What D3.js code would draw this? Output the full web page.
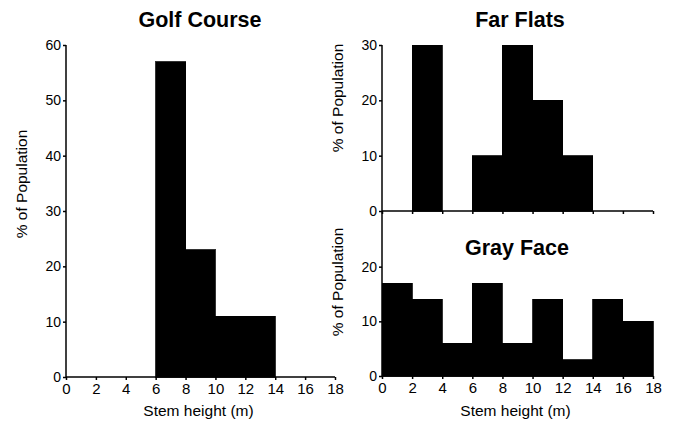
<!DOCTYPE html>
<html>
<head>
<meta charset="utf-8">
<style>
body { margin: 0; padding: 0; background: white; overflow: hidden; }
svg text { font-family: "Liberation Sans", Arial, Helvetica, sans-serif; fill: black; }
.title { font-size: 21.5px; font-weight: bold; }
.label { font-size: 15.5px; }
.axis path, .axis line { stroke: black; stroke-width: 1.5px; fill: none; }
.axis text { font-size: 14px; }
.x.axis text { font-size: 15px; }
.bar { shape-rendering: crispEdges; }
</style>
</head>
<body>
<script src="https://d3js.org/d3.v7.min.js"></script>
<script>
// bins are 2 m wide, starting at these heights
var binStarts = [0, 2, 4, 6, 8, 10, 12, 14, 16];
var golfCourse = [0, 0, 0, 57, 23, 11, 11, 0, 0];
var farFlats = [0, 30, 0, 10, 30, 20, 10, 0, 0];
var grayFace = [17, 14, 6, 17, 6, 14, 3, 14, 10];
var xTicks = [0, 2, 4, 6, 8, 10, 12, 14, 16, 18];
var golfYTicks = [0, 10, 20, 30, 40, 50, 60];
var farYTicks = [0, 10, 20, 30];
var grayYTicks = [0, 10, 20];

var svg = d3.select("body").append("svg")
    .attr("width", 676)
    .attr("height", 422);

function panel(values, opts) {
    var x = d3.scaleLinear().domain([0, 18]).range(opts.xr);
    var y = d3.scaleLinear().domain([0, opts.ymax]).range(opts.yr);
    var g = svg.append("g");

    g.selectAll(".bar")
        .data(values.map(function(v, i) { return { x0: binStarts[i], v: v }; }))
        .enter().append("rect")
        .attr("class", "bar")
        .attr("x", function(d) { return x(d.x0); })
        .attr("width", function(d) { return x(d.x0 + 2) - x(d.x0); })
        .attr("y", function(d) { return y(d.v); })
        .attr("height", function(d) { return y(0) - y(d.v); })
        .attr("fill", "black")
        .attr("stroke", "black")
        .attr("stroke-width", 0.8);

    var xa = d3.axisBottom(x).tickValues(xTicks).tickSize(3).tickPadding(3);
    if (!opts.xLabels) xa.tickFormat("");
    g.append("g")
        .attr("class", "x axis")
        .attr("transform", "translate(0," + y(0) + ")")
        .call(xa)
        .call(function(s) { s.select(".domain").attr("d", "M" + opts.xr[0] + ",0H" + opts.xr[1]); });

    g.append("g")
        .attr("class", "y axis")
        .attr("transform", "translate(" + opts.xr[0] + ",0)")
        .call(d3.axisLeft(y).tickValues(opts.yTicks).tickSize(3).tickPadding(2))
        .call(function(s) { s.select(".domain").attr("d", "M0," + opts.yr[0] + "V" + opts.yr[1]); });

    if (opts.title) {
        g.append("text")
            .attr("class", "title")
            .attr("x", opts.title[1])
            .attr("y", opts.title[2])
            .attr("text-anchor", "middle")
            .text(opts.title[0]);
    }

    g.append("text")
        .attr("class", "label")
        .attr("transform", "translate(" + opts.ylab[0] + "," + opts.ylab[1] + ") rotate(-90)")
        .attr("text-anchor", "middle")
        .text("% of Population");

    if (opts.xLabels) {
        g.append("text")
            .attr("class", "label")
            .attr("x", (opts.xr[0] + opts.xr[1]) / 2 - 2)
            .attr("y", 416)
            .attr("text-anchor", "middle")
            .text("Stem height (m)");
    }
}

panel(golfCourse, {
    xr: [66, 335], yr: [377, 45], ymax: 60, yTicks: golfYTicks,
    xLabels: true, title: ["Golf Course", 200, 27], ylab: [27, 184]
});
panel(farFlats, {
    xr: [382, 653], yr: [211, 45], ymax: 30, yTicks: farYTicks,
    xLabels: false, title: ["Far Flats", 520, 27], ylab: [343, 98]
});
panel(grayFace, {
    xr: [382, 653], yr: [376, 212], ymax: 30, yTicks: grayYTicks,
    xLabels: true, title: ["Gray Face", 517, 255], ylab: [343, 282]
});
</script>
</body>
</html>
